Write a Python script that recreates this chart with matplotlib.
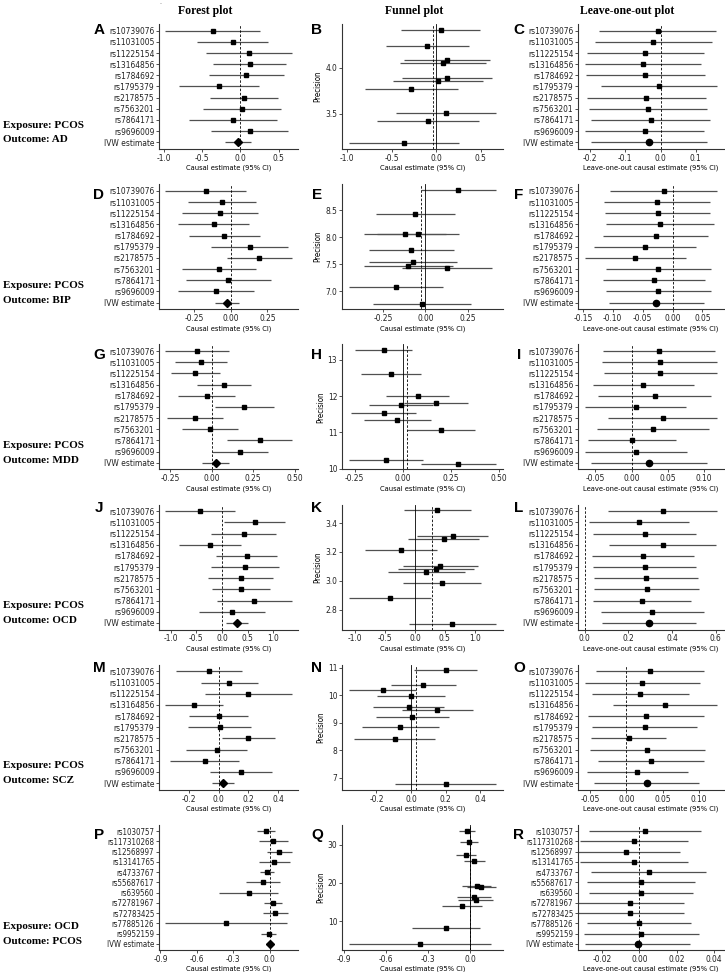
import matplotlib
matplotlib.use('Agg')
import matplotlib.pyplot as plt
import numpy as np
from matplotlib import font_manager as fm
from matplotlib.ticker import MultipleLocator, FormatStrFormatter

plt.rcParams['axes.unicode_minus'] = False

# ---------------- data ----------------
snps_pcos = ["rs10739076", "rs11031005", "rs11225154", "rs13164856", "rs1784692",
             "rs1795379", "rs2178575", "rs7563201", "rs7864171", "rs9696009"]
snps_ocd = ["rs1030757", "rs117310268", "rs12568997", "rs13141765", "rs4733767",
            "rs55687617", "rs639560", "rs72781967", "rs72783425", "rs77885126", "rs9952159"]

# per-SNP causal estimates and precision (1/SE)
ad_est = [-0.36, -0.10, 0.11, 0.12, 0.08, -0.28, 0.05, 0.02, -0.09, 0.12]
ad_prec = [3.18, 4.23, 3.51, 4.08, 4.05, 3.77, 4.41, 3.85, 3.42, 3.89]
bip_est = [-0.172, -0.06, -0.073, -0.118, -0.044, 0.129, 0.195, -0.083, -0.017, -0.102]
bip_prec = [7.08, 8.43, 7.54, 8.07, 8.07, 7.43, 8.88, 7.77, 6.77, 7.46]
mdd_est = [-0.087, -0.063, -0.099, 0.077, -0.029, 0.197, -0.099, -0.009, 0.289, 0.171]
mdd_prec = [10.25, 12.62, 13.27, 12.0, 11.34, 11.08, 11.54, 11.75, 10.14, 11.82]
ocd_est = [-0.42, 0.634, 0.426, -0.235, 0.48, 0.448, 0.36, 0.377, 0.628, 0.19]
ocd_prec = [2.877, 3.31, 3.104, 3.215, 3.29, 2.987, 3.079, 3.49, 2.70, 3.058]
scz_est = [-0.062, 0.072, 0.20, -0.164, 0.0, 0.008, 0.20, -0.013, -0.094, 0.153]
scz_prec = [8.84, 10.37, 6.76, 10.18, 9.98, 9.22, 10.90, 9.56, 8.39, 9.45]
pcos_est = [-0.03, 0.028, 0.077, 0.037, -0.023, -0.058, -0.173, 0.028, 0.044, -0.357, -0.009]
pcos_prec = [27.4, 16.35, 19.0, 15.6, 33.65, 14.0, 8.1, 25.7, 19.2, 3.9, 30.7]

# IVW estimate and 95% CI half width
ivw_est = [-0.032, -0.027, 0.024, 0.293, 0.028, -0.001]
ivw_hw = [0.165, 0.080, 0.080, 0.215, 0.073, 0.028]

# leave-one-out estimates and 95% CI half widths
ad_loo = [-0.008, -0.02, -0.043, -0.05, -0.043, -0.004, -0.04, -0.036, -0.028, -0.045]
ad_loo_hw = [0.165, 0.165, 0.165, 0.165, 0.168, 0.165, 0.168, 0.168, 0.168, 0.168]
bip_loo = [-0.015, -0.026, -0.025, -0.021, -0.028, -0.046, -0.062, -0.024, -0.031, -0.024]
bip_loo_hw = [0.090, 0.088, 0.088, 0.090, 0.088, 0.085, 0.085, 0.088, 0.085, 0.088]
mdd_loo = [0.038, 0.039, 0.040, 0.016, 0.032, 0.006, 0.043, 0.030, 0.001, 0.006]
mdd_loo_hw = [0.078, 0.080, 0.078, 0.070, 0.078, 0.070, 0.075, 0.078, 0.061, 0.071]
ocd_loo = [0.358, 0.25, 0.275, 0.358, 0.267, 0.275, 0.281, 0.285, 0.264, 0.31]
ocd_loo_hw = [0.25, 0.23, 0.235, 0.245, 0.235, 0.235, 0.24, 0.24, 0.225, 0.235]
scz_loo = [0.033, 0.022, 0.019, 0.054, 0.027, 0.025, 0.003, 0.029, 0.034, 0.015]
scz_loo_hw = [0.075, 0.080, 0.067, 0.072, 0.080, 0.073, 0.052, 0.080, 0.074, 0.070]
pcos_loo = [0.003, -0.003, -0.007, -0.003, 0.005, 0.001, 0.001, -0.005, -0.005, 0.0, 0.001]
pcos_loo_hw = [0.030, 0.029, 0.029, 0.029, 0.031, 0.029, 0.028, 0.029, 0.029, 0.028, 0.031]

exposures = ["PCOS", "PCOS", "PCOS", "PCOS", "PCOS", "OCD"]
outcomes = ["AD", "BIP", "MDD", "OCD", "SCZ", "PCOS"]
letters = [("A", "B", "C"), ("D", "E", "F"), ("G", "H", "I"),
           ("J", "K", "L"), ("M", "N", "O"), ("P", "Q", "R")]
x_steps = [(0.5, 0.1), (0.25, 0.05), (0.25, 0.05), (0.5, 0.2), (0.2, 0.05), (0.3, 0.02)]
x_fmts = [("%.1f", "%.1f"), ("%.2f", "%.2f"), ("%.2f", "%.2f"),
          ("%.1f", "%.1f"), ("%.1f", "%.2f"), ("%.1f", "%.2f")]
y_steps = [0.5, 0.5, 1, 0.2, 1, 10]
y_fmts = ["%.1f", "%.1f", "%.0f", "%.1f", "%.0f", "%.0f"]

rows = [
    (snps_pcos, ad_est, ad_prec, ad_loo, ad_loo_hw),
    (snps_pcos, bip_est, bip_prec, bip_loo, bip_loo_hw),
    (snps_pcos, mdd_est, mdd_prec, mdd_loo, mdd_loo_hw),
    (snps_pcos, ocd_est, ocd_prec, ocd_loo, ocd_loo_hw),
    (snps_pcos, scz_est, scz_prec, scz_loo, scz_loo_hw),
    (snps_ocd, pcos_est, pcos_prec, pcos_loo, pcos_loo_hw),
]

# ---------------- fonts ----------------
names = {f.name for f in fm.fontManager.ttflist}
if 'Liberation Sans Narrow' in names:
    COND = dict(family='Liberation Sans Narrow')
    FS = 7.2
else:
    COND = dict(family='DejaVu Sans', stretch='condensed')
    FS = 6.0
SERIF = dict(family=['Liberation Serif', 'DejaVu Serif'], weight='bold')
LETTER = dict(family=['Liberation Sans', 'DejaVu Sans'], weight='bold')

W, H = 725, 972
fig = plt.figure(figsize=(W / 100, H / 100), dpi=100)

LINE_C = '#505050'
AX_C = '#333333'

def px_axes(x0, x1, top, h):
    return fig.add_axes([x0 / W, 1 - (top + h) / H, (x1 - x0) / W, h / H])

def style(ax):
    for s in ('top', 'right'):
        ax.spines[s].set_visible(False)
    for s in ('left', 'bottom'):
        ax.spines[s].set_color(AX_C)
        ax.spines[s].set_linewidth(0.8)
    ax.tick_params(length=2.2, width=0.6, color=AX_C, pad=1.2, labelsize=FS,
                   labelcolor='#222222')
    for lab in ax.get_xticklabels() + ax.get_yticklabels():
        lab.set_fontfamily(COND['family'])
        if 'stretch' in COND:
            lab.set_fontstretch(COND['stretch'])

def set_xlim(ax, vals):
    lo, hi = min(vals), max(vals)
    pad = 0.05 * (hi - lo)
    ax.set_xlim(lo - pad, hi + pad)

COLS = [(159, 298), (342, 503), (578, 724)]
ROW_TOP0, ROW_STEP, AX_H = 24, 160.2, 125
LETTER_DY = [6, 11, 11, 3, 3, 10]
LETTER_X = [99, 317, 519]

for r, (snps, est, prec, loo, loo_hw) in enumerate(rows):
    top = ROW_TOP0 + ROW_STEP * r
    est = np.array(est); prec = np.array(prec)
    lo = est - 1.96 / prec
    hi = est + 1.96 / prec
    cats = list(snps) + ["IVW estimate"]
    N = len(cats)
    ypos = np.arange(N, 0, -1)
    ie, ih = ivw_est[r], ivw_hw[r]
    lab_fs = FS if N <= 11 else FS - 0.3

    # ---- forest ----
    ax = px_axes(*COLS[0], top, AX_H)
    ax.hlines(ypos[:-1], lo, hi, color=LINE_C, lw=0.9)
    ax.plot(est, ypos[:-1], 's', ms=2.2, color='black')
    ax.hlines(ypos[-1], ie - ih, ie + ih, color=LINE_C, lw=0.9)
    ax.plot([ie], [ypos[-1]], 'D', ms=3.8, color='black')
    ax.axvline(0, color='black', lw=0.6, ls=(0, (3, 2)))
    set_xlim(ax, list(lo) + list(hi) + [0, ie - ih, ie + ih])
    ax.set_ylim(0.4, N + 0.6)
    ax.set_yticks(ypos)
    ax.set_yticklabels(cats)
    ax.xaxis.set_major_locator(MultipleLocator(x_steps[r][0]))
    ax.xaxis.set_major_formatter(FormatStrFormatter(x_fmts[r][0]))
    style(ax)
    ax.tick_params(axis='y', labelsize=lab_fs)
    ax.set_xlabel("Causal estimate (95% CI)", fontsize=FS - 0.6, labelpad=1.5, **COND)

    # ---- funnel ----
    ax = px_axes(*COLS[1], top, AX_H)
    ax.hlines(prec, lo, hi, color=LINE_C, lw=0.9)
    ax.plot(est, prec, 's', ms=2.2, color='black')
    ax.axvline(0, color='black', lw=0.6)
    ax.axvline(ie, color='black', lw=0.6, ls=(0, (3, 2)))
    set_xlim(ax, list(lo) + list(hi) + [0, ie])
    pmin, pmax = prec.min(), prec.max()
    pp = 0.05 * (pmax - pmin)
    ax.set_ylim(pmin - pp, pmax + pp)
    ax.xaxis.set_major_locator(MultipleLocator(x_steps[r][0]))
    ax.xaxis.set_major_formatter(FormatStrFormatter(x_fmts[r][0]))
    ax.yaxis.set_major_locator(MultipleLocator(y_steps[r]))
    ax.yaxis.set_major_formatter(FormatStrFormatter(y_fmts[r]))
    style(ax)
    ax.set_xlabel("Causal estimate (95% CI)", fontsize=FS - 0.6, labelpad=1.5, **COND)
    ax.set_ylabel("Precision", fontsize=FS - 0.3, labelpad=2, **COND)

    # ---- leave-one-out ----
    ax = px_axes(*COLS[2], top, AX_H)
    loo = np.array(loo); loo_hw = np.array(loo_hw)
    ax.hlines(ypos[:-1], loo - loo_hw, loo + loo_hw, color=LINE_C, lw=0.9)
    ax.plot(loo, ypos[:-1], 's', ms=2.2, color='black')
    ax.hlines(ypos[-1], ie - ih, ie + ih, color=LINE_C, lw=0.9)
    ax.plot([ie], [ypos[-1]], 'o', ms=4.5, color='black')
    ax.axvline(0, color='black', lw=0.6, ls=(0, (3, 2)))
    set_xlim(ax, list(loo - loo_hw) + list(loo + loo_hw) + [0, ie - ih, ie + ih])
    if r == 5:
        ax.set_xlim(-0.033, 0.0455)
    ax.set_ylim(0.4, N + 0.6)
    ax.set_yticks(ypos)
    ax.set_yticklabels(cats)
    ax.xaxis.set_major_locator(MultipleLocator(x_steps[r][1]))
    ax.xaxis.set_major_formatter(FormatStrFormatter(x_fmts[r][1]))
    style(ax)
    ax.tick_params(axis='y', labelsize=lab_fs)
    ax.set_xlabel("Leave-one-out causal estimate (95% CI)", fontsize=FS - 0.6,
                  labelpad=1.5, **COND)

    # ---- panel letters ----
    for c in range(3):
        fig.text(LETTER_X[c] / W, 1 - (top + LETTER_DY[r]) / H, letters[r][c],
                 ha='center', va='center', fontsize=11, **LETTER)

    # ---- row labels ----
    fig.text(3 / W, 1 - (top + 101) / H, "Exposure: " + exposures[r],
             ha='left', va='center', fontsize=8, **SERIF)
    fig.text(3 / W, 1 - (top + 116) / H, "Outcome: " + outcomes[r],
             ha='left', va='center', fontsize=8, **SERIF)

# column headers
for xc, t in [(205, "Forest plot"), (414, "Funnel plot"), (627, "Leave-one-out plot")]:
    fig.text(xc / W, 1 - 11 / H, t, ha='center', va='center', fontsize=8.5, **SERIF)
fig.text(161 / W, 1 - 4 / H, "-", ha='center', va='center', fontsize=4, color='#777777')

fig.savefig("out.png", dpi=100)
